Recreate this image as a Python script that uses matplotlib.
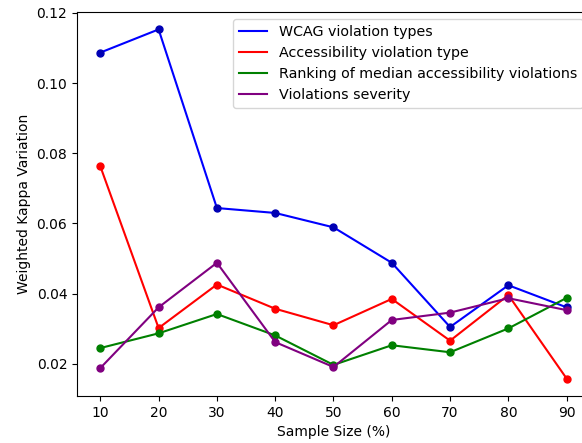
import matplotlib
matplotlib.use("Agg")
import matplotlib.pyplot as plt

sample_size = [10, 20, 30, 40, 50, 60, 70, 80, 90]
wcag = [0.1087, 0.1153, 0.0644, 0.0630, 0.0589, 0.0488, 0.0305, 0.0424, 0.0361]
access = [0.0763, 0.0302, 0.0426, 0.0357, 0.0310, 0.0385, 0.0266, 0.0396, 0.0158]
ranking = [0.0245, 0.0287, 0.0342, 0.0281, 0.0197, 0.0253, 0.0233, 0.0301, 0.0388]
severity = [0.0188, 0.0361, 0.0488, 0.0262, 0.0191, 0.0325, 0.0346, 0.0387, 0.0353]

series = [
    (wcag, 'blue', '#0000b4', 'WCAG violation types'),
    (access, 'red', 'red', 'Accessibility violation type'),
    (ranking, 'green', 'green', 'Ranking of median accessibility violations'),
    (severity, 'purple', 'purple', 'Violations severity'),
]

fig = plt.figure(figsize=(5.82, 4.43), dpi=100)
ax = fig.add_axes([0.1323, 0.106, 0.8814, 0.867])

for vals, col, mcol, lab in series:
    ax.plot(sample_size, vals, color=col, linewidth=1.5, label=lab)
    ax.plot(sample_size, vals, 'o', color=mcol, markersize=5)

ax.set_xticks(sample_size)
ax.set_xlabel('Sample Size (%)')
ax.set_ylabel('Weighted Kappa Variation')
ax.legend(loc='upper right', fontsize=10.3)

fig.savefig('out.png', dpi=100)
